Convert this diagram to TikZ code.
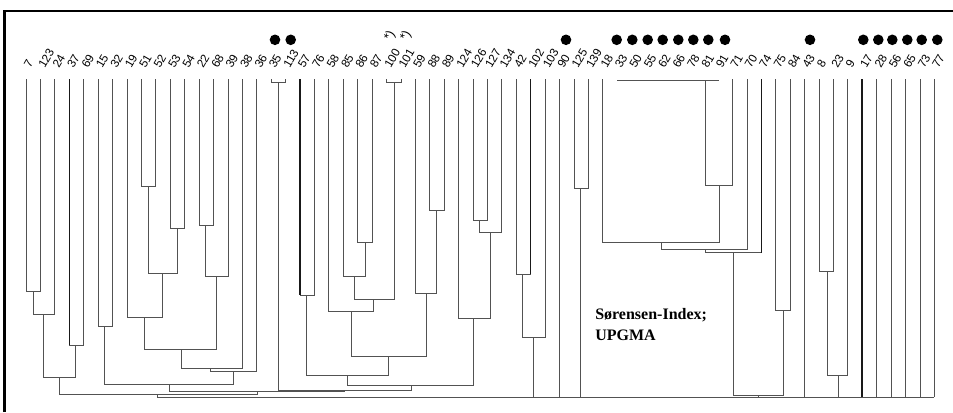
\documentclass[tikz,border=0pt]{standalone}
\usepackage{fontspec}
\setmainfont{Liberation Serif}
\newfontfamily\labfont{Liberation Sans}
\newcommand\mrg[5]{\draw[br] (#1,#2) |- (#3,#5) -- (#3,#4);}
\begin{document}
\begin{tikzpicture}[x=0.75pt,y=-0.75pt,
  br/.style={draw=black!68,line width=0.6pt},
  heavy/.style={draw=black!90,line width=1.1pt},
  lab/.style={font=\labfont\fontsize{8.8}{9}\selectfont,rotate=60,anchor=base west,inner sep=0pt},
  astk/.style={font=\labfont\fontsize{9.5}{10}\selectfont,rotate=60,anchor=center,inner sep=0pt},
  dot/.style={circle,fill=black,inner sep=0pt,minimum size=10.6*0.75pt},
  title/.style={font=\bfseries\fontsize{12}{15}\selectfont,anchor=base west,inner sep=0pt}]
\useasboundingbox (0,0) rectangle (953,412);
% frame
\draw[line width=1.6pt] (4.5,412) -- (4.5,11.3) -- (953,11.3);
% leaf labels
\foreach \t [count=\i] in {7,123,24,37,69,15,32,19,51,52,53,54,22,68,39,38,36,35,113,57,76,58,85,86,87,100,101,59,88,89,124,126,127,134,42,102,103,90,125,139,18,33,50,55,62,66,78,81,91,71,70,74,75,84,43,8,23,9,17,28,56,65,73,77}
  \node[lab] (lab\i) at ({26+14.418*(\i-1)+4.2},69) {\t};
% markers
\foreach \x [count=\k] in {275,290.7,566,616.7,632.3,647.7,662.7,678.3,693.3,708.3,725,810,863.3,878.3,892.3,907.3,921.7,937.3}
  \node[dot] (dot\k) at (\x,39.8) {};
\node[astk] (ast1) at (390,36) {*)};
\node[astk] (ast2) at (406,36) {*)};
% cluster A
\mrg{26}{79}{40.4}{79}{291.7}
\mrg{33.2}{291.7}{54.8}{79}{314}
\mrg{69.3}{79}{83.7}{79}{345}
\mrg{43.5}{314}{75.5}{345}{377.7}
% cluster B
\mrg{98.1}{79}{112.5}{79}{326.7}
\mrg{141.3}{79}{155.8}{79}{186.7}
\mrg{170.2}{79}{184.6}{79}{228.3}
\mrg{148.3}{186.7}{177.3}{228.3}{273.3}
\mrg{126.9}{79}{162.7}{273.3}{317.7}
\mrg{199}{79}{213.4}{79}{225}
\mrg{205.7}{225}{227.9}{79}{276.7}
\mrg{144.3}{317.7}{216.7}{276.7}{349}
\mrg{181}{349}{242.3}{79}{368.3}
\mrg{210.7}{368.3}{256.7}{79}{371.7}
\mrg{104.3}{326.7}{233.3}{371.7}{384}
% 35/113
\mrg{271.1}{79}{285.5}{79}{82.5}
% cluster C
\mrg{300}{79}{314.4}{79}{295}
\mrg{357.6}{79}{372}{79}{242.3}
\mrg{343.2}{79}{365.7}{242.3}{276.7}
\mrg{386.5}{79}{400.9}{79}{82.5}
\mrg{354}{276.7}{394.3}{82.5}{299.3}
\mrg{328.8}{79}{373.3}{299.3}{311.7}
\mrg{429.7}{79}{444.1}{79}{210}
\mrg{415.3}{79}{436.7}{210}{293.3}
\mrg{351.7}{311.7}{426}{293.3}{356.7}
\mrg{306.7}{295}{388.3}{356.7}{375.7}
\mrg{473}{79}{487.4}{79}{220}
\mrg{479.3}{220}{501.8}{79}{232.7}
\mrg{458.5}{79}{490}{232.7}{318.3}
\mrg{347.7}{375.7}{473.3}{318.3}{385}
% upper left merges
\mrg{278.3}{82.5}{411}{385}{390.5}
\mrg{169.3}{384}{344.5}{390.5}{391.8}
\mrg{59.5}{377.7}{257}{391.8}{394}
% right side
\mrg{516.2}{79}{530.6}{79}{274.3}
\mrg{522.7}{274.3}{545}{79}{337.3}
\mrg{573.9}{79}{588.3}{79}{188.3}
\draw[br] (617.3,80) -- (719.3,80);
\mrg{705.5}{80}{732.5}{79}{185}
\mrg{602.7}{79}{719.3}{185}{242.3}
\mrg{661.7}{242.3}{746.9}{79}{249.3}
\mrg{705}{249.3}{761.3}{79}{252.7}
\mrg{775.7}{79}{790.1}{79}{310}
\mrg{733.3}{252.7}{783.3}{310}{395}
\mrg{819}{79}{833.4}{79}{271}
\mrg{827.3}{271}{847.8}{79}{375.7}
% root
\draw[br] (157.8,394) -- (157.8,397.3) -- (934.3,397.3);
\foreach \x/\y in {533.3/337.3,559.5/79,580.7/188.3,758.7/395,804.5/79,838.3/375.7,862.2/79,876.6/79,891/79,905.5/79,919.9/79,934.3/79}
  \draw[br] (\x,\y) -- (\x,397.3);
% heavy leaves
\draw[heavy] (69.3,79) -- (69.3,345);
\draw[heavy] (300,79) -- (300,295);
\draw[heavy] (530.6,79) -- (530.6,274.3);
\draw[heavy] (761.3,79) -- (761.3,252.7);
\draw[heavy] (862.2,79) -- (862.2,397.3);
% caption
\node[title] (idx) at (595,319.3) {Sørensen-Index;};
\node[title] (upg) at (595,340) {UPGMA};
\end{tikzpicture}
\end{document}
